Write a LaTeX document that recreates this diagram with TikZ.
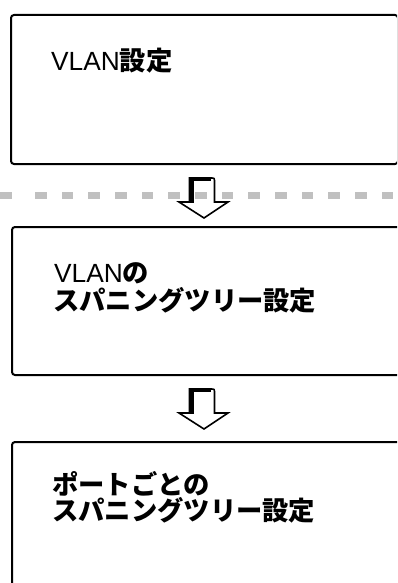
\documentclass[tikz,border=0pt]{standalone}
\usepackage{fontspec}
\newfontfamily\jp{Noto Sans CJK JP}
\newfontfamily\lat{Liberation Sans}
\definecolor{dashgray}{RGB}{192,192,192}
\begin{document}
\begin{tikzpicture}[x=1pt,y=-1pt,
  box/.style={draw=black,line width=2pt,rounded corners=3pt,inner sep=0pt,anchor=north west},
  label/.style={anchor=base west,inner sep=0pt,font=\fontsize{26.3}{27}\selectfont},
  downarrow/.pic={
    \draw[line width=1.6pt,line join=miter] (-13.5,24) -- (-24,24) -- (1,40) -- (25,24) -- (11.5,24) -- (11.5,4) .. controls (11.5,0) .. (7.5,0) -- (-13.5,0) -- cycle;
    \fill[black] (-14.5,-0.8) rectangle (-8.8,24.5);
    \fill[black] (-14.5,-0.8) rectangle (8,3.2);
  }]
\useasboundingbox (0,0) rectangle (397,583);
\clip (0,0) rectangle (397,583);
% dashed separator
\fill[dashgray] (0,191.7) rectangle (11.7,199.3);
\foreach \k in {0,...,13} {
  \fill[dashgray] ({35+26.67*\k},191.7) rectangle ++(11.7,7.6);
}
% boxes
\node[box,minimum width=387pt,minimum height=149pt] (b1) at (10,14) {};
\node[box,minimum width=389pt,minimum height=148pt] (b2) at (11,226) {};
\node[box,minimum width=389pt,minimum height=159pt] (b3) at (11,441) {};
% texts
\node[label] (t1) at (51,70.5) {\lat VLAN\jp\bfseries 設定};
\node[label] (t2a) at (54,282) {\lat VLAN\jp\bfseries の};
\node[label] (t2b) at (53,310) {\jp\bfseries スパニングツリー設定};
\node[label] (t3a) at (52,494) {\jp\bfseries ポートごとの};
\node[label] (t3b) at (52,520) {\jp\bfseries スパニングツリー設定};
% arrows
\coordinate (a1) at (203,178);
\coordinate (a2) at (203,389);
\pic at (a1) {downarrow};
\pic at (a2) {downarrow};
\end{tikzpicture}
\end{document}
